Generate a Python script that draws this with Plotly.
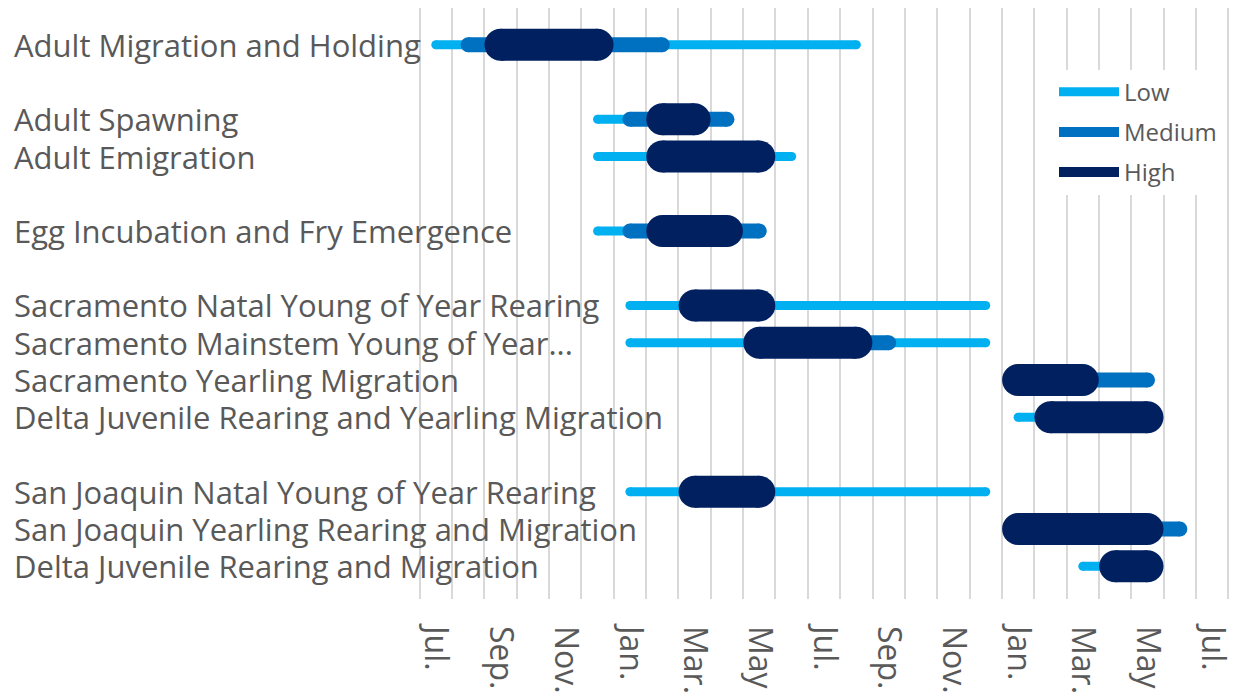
import plotly.graph_objects as go

# ---------------- data ----------------
timeline = ["Jul.", "Aug.", "Sep.", "Oct.", "Nov.", "Dec.", "Jan.", "Feb.", "Mar.", "Apr.", "May", "Jun.",
            "Jul.", "Aug.", "Sep.", "Oct.", "Nov.", "Dec.", "Jan.", "Feb.", "Mar.", "Apr.", "May", "Jun.", "Jul."]

categories = [
    "Adult Migration and Holding", "",
    "Adult Spawning", "Adult Emigration", "",
    "Egg Incubation and Fry Emergence", "",
    "Sacramento Natal Young of Year Rearing", "Sacramento Mainstem Young of Year...",
    "Sacramento Yearling Migration", "Delta Juvenile Rearing and Yearling Migration", "",
    "San Joaquin Natal Young of Year Rearing", "San Joaquin Yearling Rearing and Migration",
    "Delta Juvenile Rearing and Migration",
]

# start / end month (index into timeline) of each level, None = not present
low_start = [0, None, 5, 5, None, 5, None, 6, 6, None, 18, None, 6, None, 20]
low_end = [13, None, 9, 11, None, 10, None, 17, 17, None, 22, None, 17, None, 22]
med_start = [1, None, 6, None, None, 6, None, None, 10, 18, None, None, None, 18, None]
med_end = [7, None, 9, None, None, 10, None, None, 14, 22, None, None, None, 23, None]
high_start = [2, None, 7, 7, None, 7, None, 8, 10, 18, 19, None, 8, 18, 21]
high_end = [5, None, 8, 10, None, 9, None, 10, 13, 20, 22, None, 10, 22, 22]

levels = ["Low", "Medium", "High"]

# ---------------- style ----------------
colors = {"Low": "#00B0F0", "Medium": "#0070C0", "High": "#002060"}
widths = {"Low": 9, "Medium": 15, "High": 32}
TEXT = "#595959"
FONT = "Open Sans"


def segments(starts, ends):
    xs, ys = [], []
    for i, (s, e) in enumerate(zip(starts, ends)):
        if s is None:
            continue
        xs += [s, e, None]
        ys += [i, i, None]
    return xs, ys


spans = {"Low": (low_start, low_end), "Medium": (med_start, med_end), "High": (high_start, high_end)}

fig = go.Figure()
for lvl in levels:
    xs, ys = segments(*spans[lvl])
    fig.add_trace(go.Scatter(
        x=xs, y=ys, mode="lines", name=lvl, legendgroup=lvl,
        line=dict(color=colors[lvl], width=widths[lvl]),
        hoverinfo="skip",
    ))
    # round caps
    fig.add_trace(go.Scatter(
        x=xs, y=ys, mode="markers", showlegend=False, legendgroup=lvl,
        marker=dict(color=colors[lvl], size=widths[lvl], line=dict(width=0)),
        hoverinfo="skip",
    ))

# page has an 8px body margin: figure coordinates = page coordinates - 8
W, H = 1231, 686
ML, MR, MT, MB = 410, 9, 0, 91
pw = W - ML - MR
ph = H - MT - MB

for i, name in enumerate(categories):
    if not name:
        continue
    fig.add_annotation(
        x=(4 - ML) / pw, xref="paper", xanchor="left",
        y=i, yref="y", yanchor="middle",
        text=name, showarrow=False,
        font=dict(family=FONT, size=31, color=TEXT),
    )

fig.update_layout(
    width=W, height=H, autosize=False,
    margin=dict(l=ML, r=MR, t=MT, b=MB, pad=0),
    paper_bgcolor="white", plot_bgcolor="white",
    font=dict(family=FONT, color=TEXT),
    showlegend=True,
    legend=dict(
        x=(1046 - ML) / pw, xanchor="left",
        y=(H - MB - 62) / ph, yanchor="top",
        bgcolor="white", borderwidth=0,
        font=dict(family=FONT, size=24, color=TEXT),
        tracegroupgap=6,
        itemwidth=60,
    ),
    xaxis=dict(
        range=[-0.55, len(timeline) - 0.45],
        tickmode="array",
        tickvals=list(range(0, len(timeline), 2)),
        ticktext=timeline[::2],
        tickangle=90,
        tickfont=dict(family=FONT, size=32, color=TEXT),
        showgrid=False, zeroline=False, showline=False, ticks="",
        ticklabelstandoff=26,
        minor=dict(tickmode="linear", tick0=-0.5, dtick=1, showgrid=True,
                   gridcolor="#D9D9D9", gridwidth=2, ticks=""),
    ),
    yaxis=dict(
        range=[14.88, -0.987],
        showgrid=False, zeroline=False, showline=False,
        showticklabels=False, ticks="",
    ),
)

fig.write_html("out.html")
